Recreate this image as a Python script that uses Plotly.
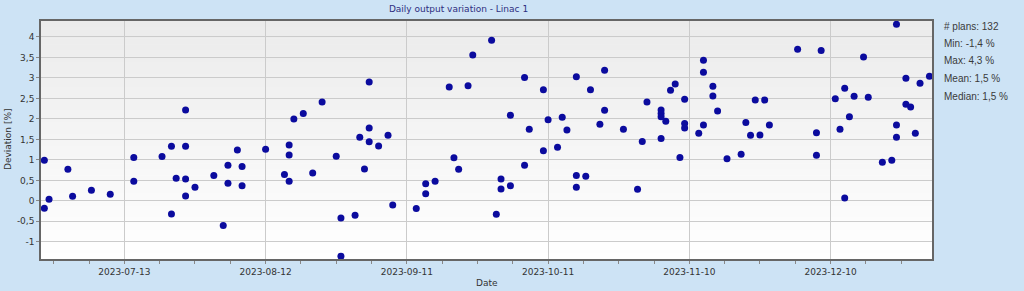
import plotly.graph_objects as go

# ---------------- data ----------------
dates = [
    "2023-06-26", "2023-06-26", "2023-06-27", "2023-07-01", "2023-07-02", "2023-07-06",
    "2023-07-10", "2023-07-15", "2023-07-15", "2023-07-21", "2023-07-23", "2023-07-23",
    "2023-07-24", "2023-07-26", "2023-07-26", "2023-07-26", "2023-07-26", "2023-07-28",
    "2023-08-01", "2023-08-03", "2023-08-04", "2023-08-04", "2023-08-06", "2023-08-07",
    "2023-08-07", "2023-08-12", "2023-08-16", "2023-08-17", "2023-08-17", "2023-08-17",
    "2023-08-18", "2023-08-20", "2023-08-22", "2023-08-24", "2023-08-27", "2023-08-28",
    "2023-08-28", "2023-08-31", "2023-09-01", "2023-09-02", "2023-09-03", "2023-09-03",
    "2023-09-03", "2023-09-05", "2023-09-07", "2023-09-08", "2023-09-13", "2023-09-15",
    "2023-09-15", "2023-09-17", "2023-09-20", "2023-09-21", "2023-09-22", "2023-09-24",
    "2023-09-25", "2023-09-29", "2023-09-30", "2023-10-01", "2023-10-01", "2023-10-03",
    "2023-10-03", "2023-10-06", "2023-10-06", "2023-10-07", "2023-10-10", "2023-10-10",
    "2023-10-11", "2023-10-13", "2023-10-14", "2023-10-15", "2023-10-17", "2023-10-17",
    "2023-10-17", "2023-10-19", "2023-10-20", "2023-10-22", "2023-10-23", "2023-10-23",
    "2023-10-27", "2023-10-30", "2023-10-31", "2023-11-01", "2023-11-04", "2023-11-04",
    "2023-11-04", "2023-11-04", "2023-11-05", "2023-11-06", "2023-11-07", "2023-11-08",
    "2023-11-09", "2023-11-09", "2023-11-09", "2023-11-12", "2023-11-13", "2023-11-13",
    "2023-11-13", "2023-11-15", "2023-11-15", "2023-11-16", "2023-11-18", "2023-11-21",
    "2023-11-22", "2023-11-23", "2023-11-24", "2023-11-25", "2023-11-26", "2023-11-27",
    "2023-12-03", "2023-12-07", "2023-12-07", "2023-12-08", "2023-12-11", "2023-12-12",
    "2023-12-13", "2023-12-13", "2023-12-14", "2023-12-15", "2023-12-17", "2023-12-18",
    "2023-12-21", "2023-12-23", "2023-12-24", "2023-12-24", "2023-12-24", "2023-12-26",
    "2023-12-26", "2023-12-27", "2023-12-28", "2023-12-29", "2023-12-31",
]
deviation = [
    0.99, -0.18, 0.04, 0.77, 0.11, 0.26,
    0.16, 1.06, 0.48, 1.08, 1.33, -0.32,
    0.55, 2.22, 1.33, 0.53, 0.12, 0.33,
    0.62, -0.60, 0.87, 0.43, 1.24, 0.84,
    0.37, 1.26, 0.64, 1.36, 1.12, 0.48,
    2.00, 2.13, 0.68, 2.41, 1.09, -0.42,
    -1.35, -0.35, 1.55, 0.78, 1.78, 1.44,
    2.90, 1.34, 1.60, -0.10, -0.19, 0.42,
    0.17, 0.48, 2.78, 1.05, 0.77, 2.81,
    3.56, 3.92, -0.33, 0.53, 0.29, 2.09,
    0.37, 3.01, 0.87, 1.75, 2.71, 1.22,
    1.98, 1.31, 2.04, 1.73, 3.03, 0.62,
    0.33, 0.60, 2.71, 1.87, 3.19, 2.21,
    1.75, 0.28, 1.45, 2.41, 2.22, 2.13,
    2.05, 1.52, 1.94, 2.70, 2.85, 1.06,
    2.48, 1.89, 1.78, 1.65, 3.43, 3.14,
    1.85, 2.80, 2.56, 2.19, 1.03, 1.14,
    1.91, 1.60, 2.46, 1.61, 2.46, 1.85,
    3.70, 1.66, 1.11, 3.67, 2.49, 1.75,
    2.75, 0.07, 2.05, 2.55, 3.51, 2.53,
    0.94, 0.99, 4.31, 1.85, 1.55, 2.99,
    2.36, 2.29, 1.65, 2.87, 3.04,
]
y_tickvals = [-1, -0.5, 0, 0.5, 1, 1.5, 2, 2.5, 3, 3.5, 4]
y_ticktext = ["-1", "-0,5", "0", "0,5", "1", "1,5", "2", "2,5", "3", "3,5", "4"]
stats_labels = ["# plans: 132", "Min: -1,4 %", "Max: 4,3 %", "Mean: 1,5 %", "Median: 1,5 %"]
title_text = "Daily output variation - Linac 1"
x_title = "Date"
y_title = "Deviation [%]"

# ---------------- figure ----------------
W, H = 1024, 291
ML, MR, MT, MB = 41, 92, 21, 32
plot_w = W - ML - MR
plot_h = H - MT - MB

fig = go.Figure()
fig.add_trace(go.Scatter(
    x=dates, y=deviation, mode="markers",
    marker=dict(size=7, color="#0b0b9e", line=dict(width=0)),
    cliponaxis=False, showlegend=False,
))

# vertical gradient background of the plot area (light gray at top -> white)
n_bands = 40
shapes = []
for i in range(n_bands):
    t = (i + 0.5) / n_bands  # 0 bottom -> 1 top
    c = int(round(255 - (255 - 235) * t))
    shapes.append(dict(
        type="rect", xref="x domain", yref="y domain",
        x0=0, x1=1, y0=i / n_bands, y1=(i + 1) / n_bands + 0.002,
        fillcolor=f"rgb({c},{c},{c})", line=dict(width=0), layer="below",
    ))

annotations = []
# stats box on the right
stat_y_px = [26, 43.7, 61, 78.7, 96]
for lab, ypx in zip(stats_labels, stat_y_px):
    annotations.append(dict(
        text=lab, xref="paper", yref="paper",
        x=(942.5 - ML) / plot_w, y=(H - MB - ypx) / plot_h,
        xanchor="left", yanchor="middle", showarrow=False,
        font=dict(family="Liberation Sans, Arial, sans-serif", size=10, color="#3a3a3a"),
    ))
# axis titles
annotations.append(dict(
    text=y_title, xref="paper", yref="paper",
    x=(8 - ML) / plot_w, y=0.5, xanchor="center", yanchor="middle",
    textangle=-90, showarrow=False,
    font=dict(family="DejaVu Sans", size=9, color="#333333"),
))
annotations.append(dict(
    text=x_title, xref="paper", yref="paper",
    x=0.5, y=(H - MB - 282.7) / plot_h, xanchor="center", yanchor="middle",
    showarrow=False,
    font=dict(family="DejaVu Sans", size=9, color="#333333"),
))

fig.update_layout(
    width=W, height=H,
    margin=dict(l=ML, r=MR, t=MT, b=MB, autoexpand=False),
    paper_bgcolor="#cde3f5",
    plot_bgcolor="#ffffff",
    font=dict(family="DejaVu Sans", size=9, color="#333333"),
    title=dict(
        text=title_text, xref="container", yref="container",
        x=458.5 / W, y=1 - 9.3 / H, xanchor="center", yanchor="middle",
        font=dict(family="DejaVu Sans", size=9, color="#2e2e80"),
    ),
    shapes=shapes,
    annotations=annotations,
    xaxis=dict(
        type="date",
        range=["2023-06-25 07:00", "2023-12-31 13:00"],
        tick0="2023-07-13", dtick=30 * 86400000,
        tickformat="%Y-%m-%d",
        ticks="outside", ticklen=3, tickcolor="#888888",
        showgrid=True, gridcolor="#cbcbcb", gridwidth=1,
        showline=True, linecolor="#666666", linewidth=1.5, mirror=True,
        zeroline=False,
        minor=dict(tick0="2023-07-13", dtick=7.5 * 86400000, ticks="outside",
                   ticklen=3, tickcolor="#888888", showgrid=False),
        tickfont=dict(family="DejaVu Sans", size=9, color="#333333"),
    ),
    yaxis=dict(
        range=[-1.42, 4.39],
        tickmode="array", tickvals=y_tickvals, ticktext=y_ticktext,
        ticks="outside", ticklen=3, tickcolor="#888888",
        showgrid=True, gridcolor="#cbcbcb", gridwidth=1,
        showline=True, linecolor="#666666", linewidth=1.5, mirror=True,
        zeroline=False,
        tickfont=dict(family="DejaVu Sans", size=9, color="#333333"),
    ),
)

fig.write_html("out.html")
